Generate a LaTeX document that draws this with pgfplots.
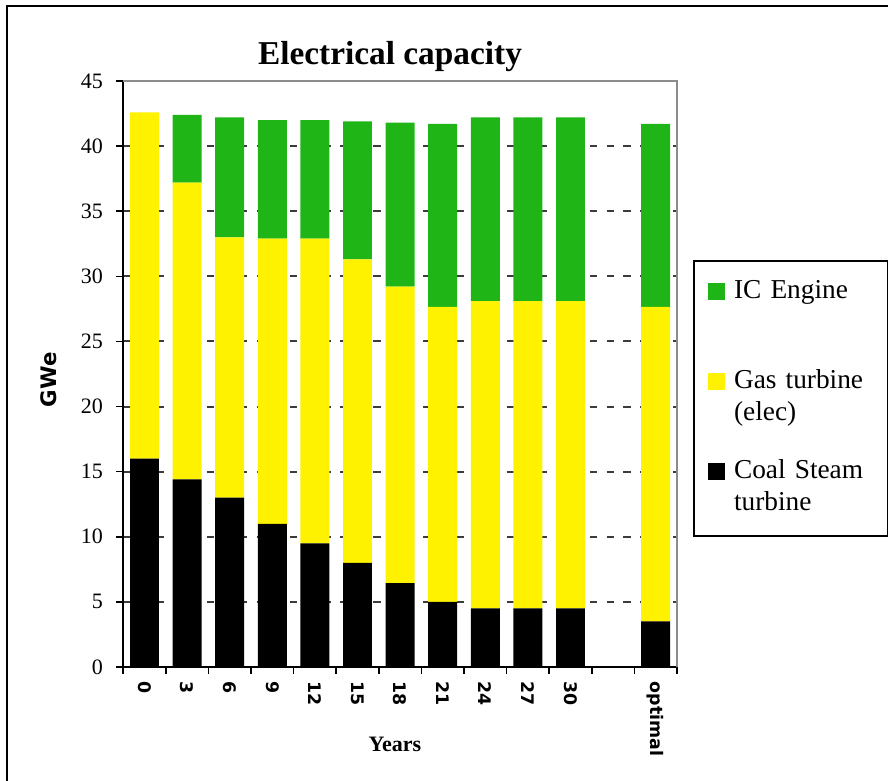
\documentclass[border=0pt]{standalone}
\usepackage{fontspec}
\setmainfont{Liberation Serif}
\newfontfamily\dejavu{DejaVu Sans}
\usepackage{pgfplots}
\usepackage{pgfplotstable}
\pgfplotsset{compat=1.18}

\definecolor{icgreen}{RGB}{31,181,22}
\definecolor{gasyellow}{RGB}{255,242,0}
\definecolor{gridgray}{RGB}{60,60,60}
\definecolor{framegray}{RGB}{140,140,140}

% capacity in GWe (x = slot, 11 left empty)
\pgfplotstableread{
x  coal  gas    ic
0  16.0  26.6   0.0
1  14.4  22.8   5.2
2  13.0  20.0   9.2
3  11.0  21.9   9.1
4  9.5   23.4   9.1
5  8.0   23.3   10.6
6  6.45  22.75  12.6
7  5.0   22.65  14.05
8  4.5   23.6   14.1
9  4.5   23.6   14.1
10 4.5   23.6   14.1
12 3.5   24.15  14.05
}\capacity

\pgfplotsset{
  sqlegend/.style={legend image code/.code={\fill[##1] (0pt,6pt) rectangle (12.75pt,18.75pt);}},
}

\begin{document}
\begin{tikzpicture}
\path[use as bounding box] (0,0) rectangle (666pt,585.75pt);
\draw[line width=1.5pt] (5.25pt,0) -- (5.25pt,581.25pt) -- (666pt,581.25pt);

\begin{axis}[
  at={(92.4pt,85.5pt)}, anchor=south west,
  scale only axis, width=415.35pt, height=439.5pt,
  ybar stacked, bar width=0.68,
  every axis plot post/.append style={sqlegend},
  xmin=-0.5, xmax=12.5, ymin=0, ymax=45,
  xtick={-0.5,0.5,...,12.5}, x tick label as interval,
  xticklabels={0,3,6,9,12,15,18,21,24,27,30,{},optimal},
  ytick={0,5,...,45},
  xtick pos=left, ytick pos=left,
  tick align=outside, major tick length=5.25pt,
  tick style={black, line width=1.2pt},
  axis line style={draw=none},
  ymajorgrids,
  grid style={gridgray, line width=1.5pt, dash pattern=on 5.5pt off 7pt},
  /pgf/number format/assume math mode=true,
  xticklabel style={rotate=-90, anchor=west, font=\dejavu\bfseries\fontsize{13}{13}\selectfont},
  xticklabel shift=2.25pt,
  yticklabel style={font=\fontsize{16.5}{16.5}\selectfont},
  yticklabel shift=6.5pt,
  clip=false,
  reverse legend,
  legend cell align=left,
  legend style={at={(1.029,0.6945)}, anchor=north west, draw=black, line width=1.5pt,
    fill=white, inner xsep=10.5pt, inner ysep=14.5pt, row sep=25pt, column sep=6.75pt,
    font=\fontsize{20.5}{24}\selectfont,
    nodes={inner sep=0pt, align=left, text width=105pt, text depth=}},
]
\addplot[fill=black, draw=none] table[x=x, y=coal] {\capacity};
\addlegendentry{Coal Steam\\turbine\vphantom{(}}
\addplot[fill=gasyellow, draw=none] table[x=x, y=gas] {\capacity};
\addlegendentry{Gas turbine\\(elec)}
\addplot[fill=icgreen, draw=none] table[x=x, y=ic] {\capacity};
\addlegendentry{IC Engine\\\vphantom{(}}

\draw[framegray, line width=1.5pt] (rel axis cs:0,1) -- (rel axis cs:1,1) -- (rel axis cs:1,0);
\draw[black, line width=1.5pt] (rel axis cs:0,1) -- (rel axis cs:0,0) -- (rel axis cs:1,0);
\end{axis}

\node[anchor=base, font=\bfseries\fontsize{25}{25}\selectfont] at (292.5pt,537pt) {Electrical capacity};
\node[anchor=base, font=\bfseries\fontsize{16.5}{16.5}\selectfont] at (296.25pt,21.75pt) {Years};
\node[rotate=90, font=\dejavu\bfseries\fontsize{16}{16}\selectfont] at (36.75pt,301pt) {GWe};
\end{tikzpicture}
\end{document}
